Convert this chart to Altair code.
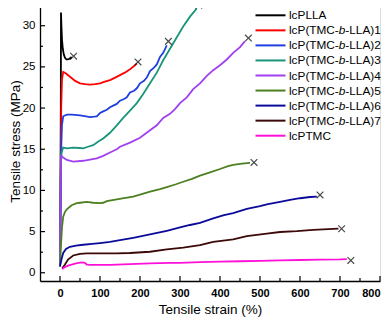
import altair as alt
import pandas as pd

names = ["lcPLLA", "lcP(TMC-b-LLA)1", "lcP(TMC-b-LLA)2", "lcP(TMC-b-LLA)3",
         "lcP(TMC-b-LLA)4", "lcP(TMC-b-LLA)5", "lcP(TMC-b-LLA)6",
         "lcP(TMC-b-LLA)7", "lcPTMC"]
colors = ["#000000", "#ff0000", "#1f3fe0", "#18957a", "#a040f0",
          "#4c8020", "#0a0a9a", "#3c0808", "#ff10d8"]

pl_x = [0, 1, 2, 2.5, 3.5, 5, 7, 9.5, 12.5, 16, 20, 24, 29]
pl_y = [0.8, 9, 20, 31.6, 30.0, 28.3, 27.2, 26.5, 26.1, 25.9, 25.9, 26.0, 26.2]

s1_x = [0, 1.5, 3, 5, 8, 15, 25, 38, 50, 62, 75, 88, 100, 112, 125, 138, 150, 162, 175, 185, 192]
s1_y = [0.8, 10, 20, 23.5, 24.4, 24.2, 23.8, 23.3, 23.0, 22.9, 22.85, 22.9, 23.0, 23.2, 23.4, 23.7, 24.0, 24.3, 24.7, 25.1, 25.4]

s2_x = [0, 1.5, 3, 5, 8, 17, 30, 50, 65, 75, 85, 92, 100, 108, 117, 125, 133, 142, 150, 160, 167, 175, 185, 192, 200, 210, 217, 225, 235, 242, 250, 258, 267]
s2_y = [0.8, 8, 15, 18, 19.0, 19.2, 19.2, 19.1, 19.0, 18.9, 18.95, 19.0, 19.4, 19.6, 19.8, 20.1, 20.3, 20.5, 20.9, 21.1, 21.3, 21.9, 22.1, 22.4, 23.0, 23.3, 23.7, 24.5, 24.9, 25.3, 26.2, 26.7, 27.6]

s3_x = [0, 1, 2, 4, 8, 17, 33, 50, 58, 70, 83, 95, 108, 125, 142, 158, 175, 192, 208, 225, 242, 258, 275, 292, 308, 325, 342]
s3_y = [0.8, 7, 13, 14.6, 15.2, 15.1, 15.2, 15.15, 15.1, 15.3, 15.5, 15.9, 16.3, 17.0, 17.9, 18.8, 19.7, 20.6, 21.7, 23.0, 24.3, 25.8, 27.2, 28.6, 29.9, 31.1, 32.1]

s4_x = [0, 1, 2, 3, 8, 17, 33, 58, 75, 92, 108, 125, 142, 150, 175, 200, 225, 242, 258, 275, 288, 300, 317, 333, 350, 367, 383, 400, 417, 433, 450, 462]
s4_y = [0.8, 7, 12, 14.2, 14.0, 13.7, 13.5, 13.6, 13.75, 13.9, 14.2, 14.6, 15.0, 15.3, 15.8, 16.4, 17.3, 17.9, 18.8, 19.3, 19.9, 20.6, 21.3, 22.3, 23.0, 23.9, 24.6, 25.2, 25.9, 26.7, 27.4, 28.1]

s5_x = [0, 2, 5, 8, 12.5, 17, 29, 42, 50, 67, 83, 100, 108, 117, 142, 160, 183, 200, 225, 250, 267, 290, 308, 330, 350, 375, 400, 420, 433, 455, 475]
s5_y = [0.8, 3, 5.5, 6.8, 7.4, 7.7, 8.2, 8.45, 8.5, 8.6, 8.5, 8.45, 8.5, 8.7, 8.9, 9.05, 9.25, 9.5, 9.85, 10.15, 10.4, 10.75, 11.05, 11.4, 11.8, 12.2, 12.6, 12.95, 13.1, 13.25, 13.35]

s6_x = [0, 2, 4, 8, 15, 25, 40, 58, 80, 100, 125, 150, 183, 210, 240, 267, 300, 325, 350, 383, 410, 433, 467, 500, 517, 550, 575, 600, 625, 642]
s6_y = [0.8, 1.2, 1.7, 2.4, 2.9, 3.15, 3.3, 3.4, 3.5, 3.6, 3.75, 3.95, 4.25, 4.5, 4.8, 5.1, 5.5, 5.8, 6.05, 6.6, 7.0, 7.25, 7.75, 8.1, 8.3, 8.6, 8.85, 9.05, 9.2, 9.25]

s7_x = [5, 8, 12.5, 20, 33, 50, 67, 100, 125, 142, 175, 225, 267, 308, 350, 383, 433, 467, 517, 550, 592, 633, 670, 696]
s7_y = [0.6, 0.7, 1.0, 1.6, 2.1, 2.3, 2.35, 2.35, 2.35, 2.35, 2.4, 2.55, 2.85, 3.05, 3.35, 3.75, 4.05, 4.45, 4.75, 4.95, 5.05, 5.2, 5.3, 5.35]

pt_x = [5, 8, 15, 22, 29, 40, 54, 62, 67, 75, 83, 100, 125, 142, 175, 225, 275, 300, 350, 400, 450, 500, 550, 600, 650, 700, 717]
pt_y = [0.45, 0.55, 0.75, 0.9, 1.0, 1.15, 1.25, 1.2, 1.0, 0.95, 0.95, 0.95, 0.95, 1.0, 1.05, 1.15, 1.2, 1.2, 1.3, 1.35, 1.4, 1.45, 1.5, 1.55, 1.6, 1.62, 1.65]

break_x = [34, 195, 271, 347, 471, 485, 650, 704, 727]
break_y = [26.3, 25.6, 28.1, 32.5, 28.5, 13.4, 9.45, 5.35, 1.5]

x_major = [0, 100, 200, 300, 400, 500, 600, 700, 800]
x_minor = [50, 150, 250, 350, 450, 550, 650, 750]
y_major = [0, 5, 10, 15, 20, 25, 30]
y_minor = [2.5, 7.5, 12.5, 17.5, 22.5, 27.5, 32.5]

series = [(pl_x, pl_y), (s1_x, s1_y), (s2_x, s2_y), (s3_x, s3_y), (s4_x, s4_y),
          (s5_x, s5_y), (s6_x, s6_y), (s7_x, s7_y), (pt_x, pt_y)]

rows = []
for n, (xs_, ys_) in zip(names, series):
    for k, (a, b) in enumerate(zip(xs_, ys_)):
        rows.append({"name": n, "strain": a, "stress": b, "k": k})
df = pd.DataFrame(rows)
brk = pd.DataFrame({"strain": break_x, "stress": break_y})

W, H = 340, 280
XD = [-50, 800]
YD = [-1, 33]
FONT = "Liberation Sans"

xs = alt.Scale(domain=XD, nice=False, zero=False)
ys = alt.Scale(domain=YD, nice=False, zero=False)
cs = alt.Scale(domain=names, range=colors)

xaxis = alt.Axis(values=x_major, ticks=False, grid=False, domainColor="black",
                 domainWidth=1.3, labelFontWeight="bold", labelFontSize=11,
                 labelColor="black", labelPadding=6, labelFont=FONT,
                 title="Tensile strain (%)", titleFont=FONT, titleFontSize=13.5,
                 titleFontWeight="normal", titleColor="black", titlePadding=4)
yaxis = alt.Axis(values=y_major, ticks=False, grid=False, domainColor="black",
                 domainWidth=1.3, labelFontSize=11.5, labelColor="black",
                 labelPadding=5, labelFont=FONT,
                 title="Tensile stress (MPa)", titleFont=FONT, titleFontSize=13.5,
                 titleFontWeight="normal", titleColor="black",
                 titleX=-18, titleBaseline="bottom")

lines = alt.Chart(df).mark_line(strokeWidth=1.8).encode(
    x=alt.X("strain:Q", scale=xs, axis=xaxis),
    y=alt.Y("stress:Q", scale=ys, axis=yaxis),
    color=alt.Color("name:N", scale=cs, legend=None),
    detail="name:N",
    order="k:Q",
)

marks = alt.Chart(brk).mark_point(
    shape="M-1,-1L1,1M-1,1L1,-1", size=45, filled=False, stroke="black", strokeWidth=1.2
).encode(x=alt.X("strain:Q", scale=xs), y=alt.Y("stress:Q", scale=ys))

xt_major = alt.Chart(pd.DataFrame({"v": x_major})).mark_rule(color="black", strokeWidth=1.2).encode(
    x=alt.X("v:Q", scale=xs), y=alt.value(H), y2=alt.value(H - 5))
xt_minor = alt.Chart(pd.DataFrame({"v": x_minor})).mark_rule(color="black", strokeWidth=1.2).encode(
    x=alt.X("v:Q", scale=xs), y=alt.value(H), y2=alt.value(H - 3))
yt_major = alt.Chart(pd.DataFrame({"v": y_major})).mark_rule(color="black", strokeWidth=1.2).encode(
    y=alt.Y("v:Q", scale=ys), x=alt.value(0), x2=alt.value(5))
yt_minor = alt.Chart(pd.DataFrame({"v": y_minor})).mark_rule(color="black", strokeWidth=1.2).encode(
    y=alt.Y("v:Q", scale=ys), x=alt.value(0), x2=alt.value(3))

# custom legend (pixel layout converted into data units)
leg = pd.DataFrame({"name": names, "i": list(range(len(names)))})
leg["pre"] = [n.split("b-")[0] if "b-" in n else n for n in names]
leg["suf"] = ["-" + n.split("b-")[1] if "b-" in n else "" for n in names]
leg["hasb"] = ["b-" in n for n in names]
ppx = (XD[1] - XD[0]) / W
ppy = (YD[1] - YD[0]) / H
LX = 215.5
FS = 11.8
wpre = 4.221 * FS
wb = 0.556 * FS
base = alt.Chart(leg).transform_calculate(
    ly=f"{YD[1]} - (14.3 + 15.05*datum.i)*{ppy}",
    lx1=f"{XD[0]} + {LX}*{ppx}",
    lx2=f"{XD[0]} + {LX + 30}*{ppx}",
    tx=f"{XD[0]} + {LX + 33.5}*{ppx}",
    bx=f"{XD[0]} + {LX + 33.5 + wpre}*{ppx}",
    sx=f"{XD[0]} + {LX + 33.5 + wpre + wb}*{ppx}",
)
leg_lines = base.mark_rule(strokeWidth=2).encode(
    x=alt.X("lx1:Q", scale=xs), x2="lx2:Q", y=alt.Y("ly:Q", scale=ys),
    color=alt.Color("name:N", scale=cs, legend=None))
leg_pre = base.mark_text(align="left", baseline="middle", font=FONT, fontSize=FS, color="black").encode(
    x=alt.X("tx:Q", scale=xs), y=alt.Y("ly:Q", scale=ys), text="pre:N")
leg_b = base.transform_filter("datum.hasb").mark_text(
    align="left", baseline="middle", font=FONT, fontSize=FS, fontStyle="italic", color="black").encode(
    x=alt.X("bx:Q", scale=xs), y=alt.Y("ly:Q", scale=ys), text=alt.value("b"))
leg_suf = base.transform_filter("datum.hasb").mark_text(
    align="left", baseline="middle", font=FONT, fontSize=FS, color="black").encode(
    x=alt.X("sx:Q", scale=xs), y=alt.Y("ly:Q", scale=ys), text="suf:N")

chart = alt.layer(
    lines, marks, xt_major, xt_minor, yt_major, yt_minor,
    leg_lines, leg_pre, leg_b, leg_suf
).properties(
    width=W, height=H,
    autosize=alt.AutoSizeParams(type="none"),
    padding={"left": 32, "top": -7, "right": 4, "bottom": 37},
).configure_view(stroke=None).configure(background="white")

chart.save("out.html", embed_options={"renderer": "svg", "actions": False})
